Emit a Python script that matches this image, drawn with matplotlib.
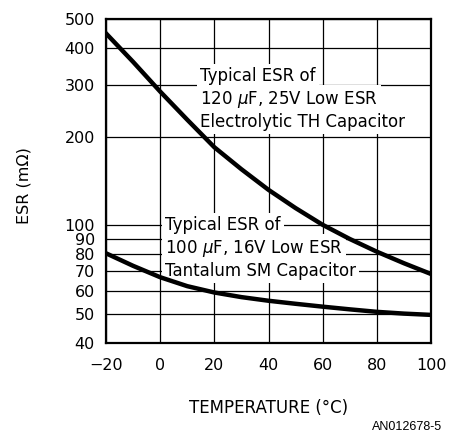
import matplotlib
matplotlib.use("Agg")
import matplotlib.pyplot as plt
from matplotlib.ticker import FixedLocator, NullLocator

# Temperatura (°C) e ESR (mOhm)
temp = [-20, -10, 0, 10, 20, 30, 40, 50, 60, 70, 80, 90, 100]
esr_electrolytic = [447, 358, 284, 228, 184, 155, 132, 114.5, 100.5, 90, 81.5, 74.5, 68.5]
esr_tantalum = [80.5, 73.0, 66.8, 62.3, 59.3, 57.2, 55.6, 54.3, 53.1, 52.0, 51.0, 50.3, 49.8]

x_ticks = [-20, 0, 20, 40, 60, 80, 100]
y_ticks = [40, 50, 60, 70, 80, 90, 100, 200, 300, 400, 500]

label_electrolytic = ["Typical ESR of", r"120 $\mu$F, 25V Low ESR", "Electrolytic TH Capacitor"]
label_tantalum = ["Typical ESR of", r"100 $\mu$F, 16V Low ESR", "Tantalum SM Capacitor"]

plt.rcParams["font.family"] = ["DejaVu Sans"]

fig = plt.figure(figsize=(4.5, 4.33), dpi=100)
ax = fig.add_axes([106 / 450, 1 - 343 / 433, 325 / 450, 324 / 433])

ax.set_yscale("log")
ax.set_xlim(-20, 100)
ax.set_ylim(40, 500)

ax.xaxis.set_major_locator(FixedLocator(x_ticks))
ax.yaxis.set_major_locator(FixedLocator(y_ticks))
ax.yaxis.set_minor_locator(NullLocator())
ax.set_xticklabels([f"\u2212{abs(v)}" if v < 0 else str(v) for v in x_ticks])
ax.set_yticklabels([str(v) for v in y_ticks])
ax.tick_params(axis="both", length=0, labelsize=11.5)
ax.tick_params(axis="x", pad=11)
ax.tick_params(axis="y", pad=8)

ax.grid(True, which="major", color="black", linewidth=0.9, zorder=1)
for s in ax.spines.values():
    s.set_linewidth(1.6)

ax.plot(temp, esr_electrolytic, color="black", linewidth=3.2, zorder=5)
ax.plot(temp, esr_tantalum, color="black", linewidth=3.2, zorder=5)

# Rótulos com fundo branco cobrindo a grade
box = dict(facecolor="white", edgecolor="none", pad=2.4)
for i, line in enumerate(label_electrolytic):
    ax.text(0.289, 0.824 - i * 0.071, line, transform=ax.transAxes, fontsize=12,
            ha="left", va="center", bbox=box, zorder=4)
for i, line in enumerate(label_tantalum):
    ax.text(0.1815, 0.364 - i * 0.071, line, transform=ax.transAxes, fontsize=12,
            ha="left", va="center", bbox=box, zorder=4)

fig.text(269 / 450, 1 - 408 / 433, "TEMPERATURE (°C)", fontsize=12, ha="center", va="center")
fig.text(24 / 450, 1 - 186 / 433, "ESR (m\u03a9)", fontsize=11.5, rotation=90, ha="center", va="center")
fig.text(442 / 450, 1 - 427 / 433, "AN012678-5", fontsize=9, family="Liberation Sans",
         ha="right", va="center")

fig.savefig("out.png", dpi=100)
